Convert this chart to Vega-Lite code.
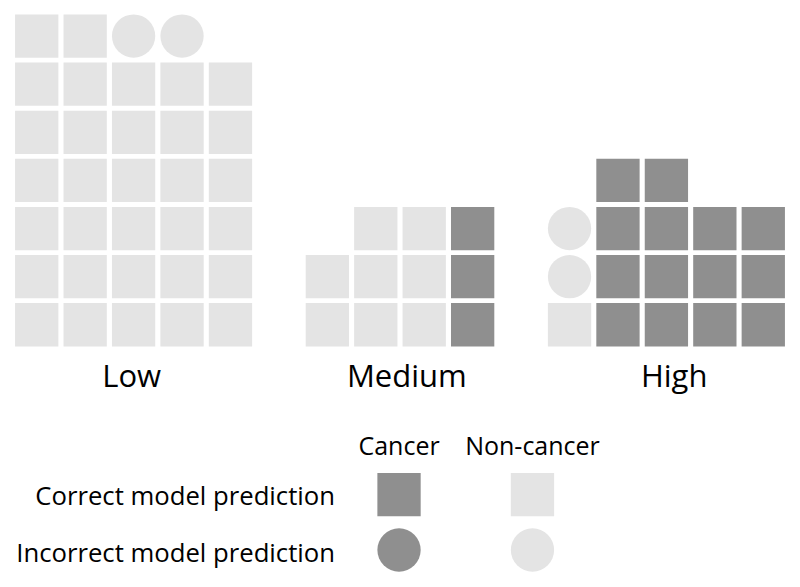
{
  "$schema": "https://vega.github.io/schema/vega-lite/v6.json",
  "width": 775,
  "height": 575,
  "autosize": {"type": "none"},
  "padding": {"left": 12.5, "right": 12.5, "top": 12, "bottom": 0},
  "background": "white",
  "config": {"view": {"stroke": null}, "font": "Open Sans", "text": {"color": "#000000"}},
  "datasets": {
    "cells": [
      {"group":"Low","slot":0,"row":1,"cls":"Non-cancer","pred":"Correct"},
      {"group":"Low","slot":1,"row":1,"cls":"Non-cancer","pred":"Correct"},
      {"group":"Low","slot":2,"row":1,"cls":"Non-cancer","pred":"Correct"},
      {"group":"Low","slot":3,"row":1,"cls":"Non-cancer","pred":"Correct"},
      {"group":"Low","slot":4,"row":1,"cls":"Non-cancer","pred":"Correct"},
      {"group":"Low","slot":0,"row":2,"cls":"Non-cancer","pred":"Correct"},
      {"group":"Low","slot":1,"row":2,"cls":"Non-cancer","pred":"Correct"},
      {"group":"Low","slot":2,"row":2,"cls":"Non-cancer","pred":"Correct"},
      {"group":"Low","slot":3,"row":2,"cls":"Non-cancer","pred":"Correct"},
      {"group":"Low","slot":4,"row":2,"cls":"Non-cancer","pred":"Correct"},
      {"group":"Low","slot":0,"row":3,"cls":"Non-cancer","pred":"Correct"},
      {"group":"Low","slot":1,"row":3,"cls":"Non-cancer","pred":"Correct"},
      {"group":"Low","slot":2,"row":3,"cls":"Non-cancer","pred":"Correct"},
      {"group":"Low","slot":3,"row":3,"cls":"Non-cancer","pred":"Correct"},
      {"group":"Low","slot":4,"row":3,"cls":"Non-cancer","pred":"Correct"},
      {"group":"Low","slot":0,"row":4,"cls":"Non-cancer","pred":"Correct"},
      {"group":"Low","slot":1,"row":4,"cls":"Non-cancer","pred":"Correct"},
      {"group":"Low","slot":2,"row":4,"cls":"Non-cancer","pred":"Correct"},
      {"group":"Low","slot":3,"row":4,"cls":"Non-cancer","pred":"Correct"},
      {"group":"Low","slot":4,"row":4,"cls":"Non-cancer","pred":"Correct"},
      {"group":"Low","slot":0,"row":5,"cls":"Non-cancer","pred":"Correct"},
      {"group":"Low","slot":1,"row":5,"cls":"Non-cancer","pred":"Correct"},
      {"group":"Low","slot":2,"row":5,"cls":"Non-cancer","pred":"Correct"},
      {"group":"Low","slot":3,"row":5,"cls":"Non-cancer","pred":"Correct"},
      {"group":"Low","slot":4,"row":5,"cls":"Non-cancer","pred":"Correct"},
      {"group":"Low","slot":0,"row":6,"cls":"Non-cancer","pred":"Correct"},
      {"group":"Low","slot":1,"row":6,"cls":"Non-cancer","pred":"Correct"},
      {"group":"Low","slot":2,"row":6,"cls":"Non-cancer","pred":"Correct"},
      {"group":"Low","slot":3,"row":6,"cls":"Non-cancer","pred":"Correct"},
      {"group":"Low","slot":4,"row":6,"cls":"Non-cancer","pred":"Correct"},
      {"group":"Low","slot":0,"row":7,"cls":"Non-cancer","pred":"Correct"},
      {"group":"Low","slot":1,"row":7,"cls":"Non-cancer","pred":"Correct"},
      {"group":"Low","slot":2,"row":7,"cls":"Non-cancer","pred":"Incorrect"},
      {"group":"Low","slot":3,"row":7,"cls":"Non-cancer","pred":"Incorrect"},
      {"group":"Medium","slot":6,"row":1,"cls":"Non-cancer","pred":"Correct"},
      {"group":"Medium","slot":7,"row":1,"cls":"Non-cancer","pred":"Correct"},
      {"group":"Medium","slot":8,"row":1,"cls":"Non-cancer","pred":"Correct"},
      {"group":"Medium","slot":9,"row":1,"cls":"Cancer","pred":"Correct"},
      {"group":"Medium","slot":6,"row":2,"cls":"Non-cancer","pred":"Correct"},
      {"group":"Medium","slot":7,"row":2,"cls":"Non-cancer","pred":"Correct"},
      {"group":"Medium","slot":8,"row":2,"cls":"Non-cancer","pred":"Correct"},
      {"group":"Medium","slot":9,"row":2,"cls":"Cancer","pred":"Correct"},
      {"group":"Medium","slot":7,"row":3,"cls":"Non-cancer","pred":"Correct"},
      {"group":"Medium","slot":8,"row":3,"cls":"Non-cancer","pred":"Correct"},
      {"group":"Medium","slot":9,"row":3,"cls":"Cancer","pred":"Correct"},
      {"group":"High","slot":11,"row":1,"cls":"Non-cancer","pred":"Correct"},
      {"group":"High","slot":12,"row":1,"cls":"Cancer","pred":"Correct"},
      {"group":"High","slot":13,"row":1,"cls":"Cancer","pred":"Correct"},
      {"group":"High","slot":14,"row":1,"cls":"Cancer","pred":"Correct"},
      {"group":"High","slot":15,"row":1,"cls":"Cancer","pred":"Correct"},
      {"group":"High","slot":11,"row":2,"cls":"Non-cancer","pred":"Incorrect"},
      {"group":"High","slot":12,"row":2,"cls":"Cancer","pred":"Correct"},
      {"group":"High","slot":13,"row":2,"cls":"Cancer","pred":"Correct"},
      {"group":"High","slot":14,"row":2,"cls":"Cancer","pred":"Correct"},
      {"group":"High","slot":15,"row":2,"cls":"Cancer","pred":"Correct"},
      {"group":"High","slot":11,"row":3,"cls":"Non-cancer","pred":"Incorrect"},
      {"group":"High","slot":12,"row":3,"cls":"Cancer","pred":"Correct"},
      {"group":"High","slot":13,"row":3,"cls":"Cancer","pred":"Correct"},
      {"group":"High","slot":14,"row":3,"cls":"Cancer","pred":"Correct"},
      {"group":"High","slot":15,"row":3,"cls":"Cancer","pred":"Correct"},
      {"group":"High","slot":12,"row":4,"cls":"Cancer","pred":"Correct"},
      {"group":"High","slot":13,"row":4,"cls":"Cancer","pred":"Correct"}
    ],
    "groupLabels": [
      {"group":"Low","gx":1.96,"gy":-0.294},
      {"group":"Medium","gx":7.64,"gy":-0.294},
      {"group":"High","gx":13.16,"gy":-0.294}
    ],
    "legendKeys": [
      {"cls":"Cancer","pred":"Correct","lx":7.48,"ly":-2.532},
      {"cls":"Non-cancer","pred":"Correct","lx":10.235,"ly":-2.532},
      {"cls":"Cancer","pred":"Incorrect","lx":7.48,"ly":-3.681},
      {"cls":"Non-cancer","pred":"Incorrect","lx":10.235,"ly":-3.681}
    ],
    "legendHeaders": [
      {"cls":"Cancer","lx":7.48,"ly":-1.707},
      {"cls":"Non-cancer","lx":10.235,"ly":-1.707}
    ],
    "legendRows": [
      {"label":"Correct model prediction","lx":6.158,"ly":-2.746},
      {"label":"Incorrect model prediction","lx":6.158,"ly":-3.924}
    ]
  },
  "layer": [
    {
      "data": {"name": "cells"},
      "mark": {"type": "point", "filled": true, "size": 1875, "opacity": 1, "strokeWidth": 0},
      "encoding": {
        "x": {"field": "slot", "type": "quantitative", "scale": {"domain": [-0.5, 15.5], "nice": false, "zero": false}, "axis": null},
        "y": {"field": "row", "type": "quantitative", "scale": {"domain": [-4.45, 7.5], "nice": false, "zero": false}, "axis": null},
        "color": {"field": "cls", "type": "nominal", "scale": {"domain": ["Cancer", "Non-cancer"], "range": ["#8f8f8f", "#e4e4e4"]}, "legend": null},
        "shape": {"field": "pred", "type": "nominal", "scale": {"domain": ["Correct", "Incorrect"], "range": ["square", "circle"]}, "legend": null}
      }
    },
    {
      "data": {"name": "legendKeys"},
      "mark": {"type": "point", "filled": true, "size": 1875, "opacity": 1, "strokeWidth": 0},
      "encoding": {
        "x": {"field": "lx", "type": "quantitative", "scale": {"domain": [-0.5, 15.5], "nice": false, "zero": false}, "axis": null},
        "y": {"field": "ly", "type": "quantitative", "scale": {"domain": [-4.45, 7.5], "nice": false, "zero": false}, "axis": null},
        "color": {"field": "cls", "type": "nominal", "scale": {"domain": ["Cancer", "Non-cancer"], "range": ["#8f8f8f", "#e4e4e4"]}, "legend": null},
        "shape": {"field": "pred", "type": "nominal", "scale": {"domain": ["Correct", "Incorrect"], "range": ["square", "circle"]}, "legend": null}
      }
    },
    {
      "data": {"name": "groupLabels"},
      "mark": {"type": "text", "fontSize": 31, "align": "center", "baseline": "alphabetic"},
      "encoding": {
        "x": {"field": "gx", "type": "quantitative"},
        "y": {"field": "gy", "type": "quantitative"},
        "text": {"field": "group"}
      }
    },
    {
      "data": {"name": "legendHeaders"},
      "mark": {"type": "text", "fontSize": 25, "align": "center", "baseline": "alphabetic"},
      "encoding": {
        "x": {"field": "lx", "type": "quantitative"},
        "y": {"field": "ly", "type": "quantitative"},
        "text": {"field": "cls"}
      }
    },
    {
      "data": {"name": "legendRows"},
      "mark": {"type": "text", "fontSize": 25.7, "align": "right", "baseline": "alphabetic"},
      "encoding": {
        "x": {"field": "lx", "type": "quantitative"},
        "y": {"field": "ly", "type": "quantitative"},
        "text": {"field": "label"}
      }
    }
  ]
}
